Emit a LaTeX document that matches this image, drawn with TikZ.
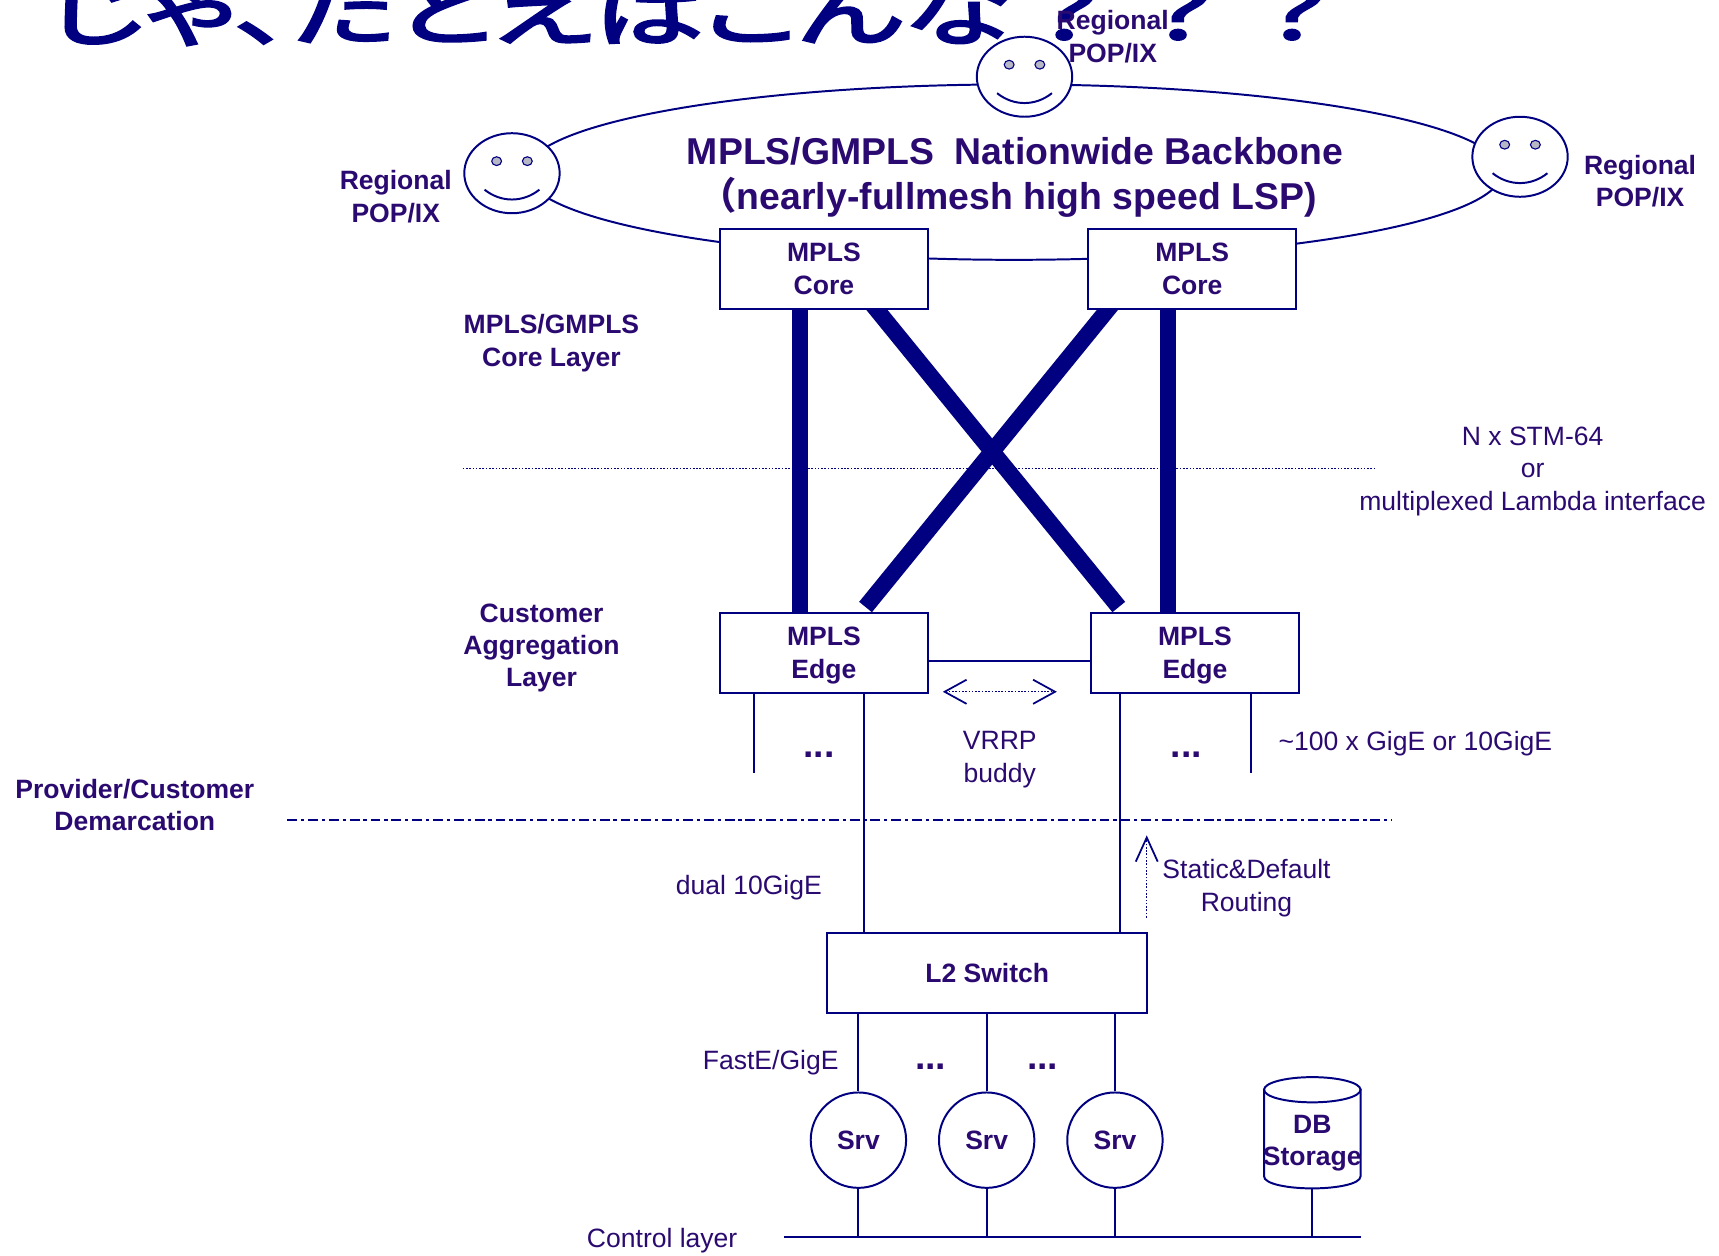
\documentclass[tikz,border=0pt]{standalone}
\usepackage{fontspec}
\setmainfont{Liberation Sans}
\newfontfamily\cjk{Noto Sans CJK JP}
\newfontfamily\cjkhead[RawFeature=+palt,FakeBold=3]{Noto Sans CJK JP}
\usetikzlibrary{shapes.geometric,arrows.meta,backgrounds}
\definecolor{netline}{HTML}{000080}
\definecolor{nettext}{HTML}{2A0A70}
\tikzset{
  netbox/.style={rectangle,draw=netline,line width=1.8pt,fill=white,text=nettext,align=center,inner sep=0pt,minimum height=73pt,text depth=0pt,font=\fontsize{24.2}{29.5}\selectfont\bfseries},
  face/.style={ellipse,draw=netline,line width=1.8pt,fill=white,inner sep=0pt,minimum width=87pt,minimum height=73pt},
  eye/.style={ellipse,draw=netline,line width=1pt,fill=netline!25!gray!45!white,inner sep=0pt,minimum width=9pt,minimum height=8pt},
  srv/.style={circle,draw=netline,line width=1.8pt,fill=white,text=nettext,inner sep=0pt,minimum size=87pt,font=\fontsize{24.2}{29.5}\selectfont\bfseries},
  lab/.style={text=nettext,align=center,inner sep=0pt,font=\fontsize{24.2}{29.5}\selectfont},
  blab/.style={lab,font=\fontsize{24.2}{29.5}\selectfont\bfseries},
  dotsmark/.style={lab,font=\fontsize{34}{34}\selectfont\bfseries},
  wire/.style={draw=netline,line width=1.8pt},
  trunk/.style={draw=netline,line width=15pt},
  dotline/.style={draw=netline,line width=1pt,dash pattern=on 1.5pt off 1.5pt},
  demarc/.style={draw=netline,line width=1.8pt,dash pattern=on 9pt off 3.5pt on 3pt off 3.5pt},
  dotarrow/.style={draw=netline,line width=1.2pt,dash pattern=on 1.5pt off 1.5pt,{Straight Barb[length=20pt,width=22pt,line width=1.6pt]}-{Straight Barb[length=20pt,width=22pt,line width=1.6pt]}}
}
\begin{document}
\begin{tikzpicture}[x=1pt,y=-1pt]
  \useasboundingbox (0,0) rectangle (1568,1145);
  % title runs off the top of the slide
  \node[anchor=base west,inner sep=0pt,text=netline,xscale=1.095,yscale=0.75,transform shape,font=\fontsize{92}{100}\selectfont\cjkhead] (title) at (44,36) {じゃ、たとえばこんな\hspace{12pt}？\hspace{29pt}？\hspace{29pt}？};

  % backbone ring and the POPs on it
  \node[ellipse,draw=netline,line width=1.8pt,inner sep=0pt,minimum width=890pt,minimum height=160pt] (ring) at (925,157) {};
  \foreach \nm/\cx/\cy in {popT/934.5/70,popL/467/158,popR/1386.5/143}{
    \node[face] (\nm) at (\cx,\cy) {};
    \node[eye] (\nm a) at (\cx-14,\cy-11) {};
    \node[eye] (\nm b) at (\cx+14,\cy-11) {};
    \draw[wire] (\cx-25,\cy+15) .. controls (\cx-10,\cy+27) and (\cx+10,\cy+27) .. (\cx+25,\cy+15);
  }
  \node[blab] (labT) at (1015,33.5) {Regional\\POP/IX};
  \node[blab] (labL) at (361,179.5) {Regional\\POP/IX};
  \node[blab] (labR) at (1496,165.5) {Regional\\POP/IX};
  \node[text=nettext,align=center,inner sep=0pt,font=\fontsize{34.1}{41}\selectfont\bfseries] (bbone) at (926,162) {MPLS/GMPLS~ Nationwide Backbone\\{\cjk （}nearly-fullmesh high speed LSP)\hspace*{13pt}};

  % boxes
  \node[netbox,minimum width=190pt] (coreL) at (751.5,245) {MPLS\\Core};
  \node[netbox,minimum width=190pt] (coreR) at (1087.5,245) {MPLS\\Core};
  \node[netbox,minimum width=190pt] (edgeL) at (751.5,595.5) {MPLS\\Edge};
  \node[netbox,minimum width=190pt] (edgeR) at (1090,595.5) {MPLS\\Edge};
  \node[netbox,minimum width=292pt] (l2sw) at (900.5,887.5) {L2 Switch};

  % core to edge trunks
  \begin{scope}[on background layer]
    \draw[trunk] ([xshift=-22pt]coreL.south) -- ([xshift=-22pt]edgeL.north);
    \draw[trunk] ([xshift=-22pt]coreR.south) -- ([xshift=-24.5pt]edgeR.north);
    \draw[trunk] ([xshift=40pt,yshift=10pt]coreL.south) -- ([xshift=-69.5pt,yshift=4.4pt]edgeR.north);
    \draw[trunk] ([xshift=-69pt,yshift=10pt]coreR.south) -- ([xshift=38pt,yshift=4.4pt]edgeL.north);
  \end{scope}

  \coordinate (dotA) at (422,427);
  \coordinate (dotB) at (1254,427);
  \draw[dotline] (dotA) -- (dotB);
  \coordinate (demA) at (262,748);
  \coordinate (demB) at (1270,748);
  \draw[demarc] (demA) -- (demB);

  \draw[wire] ([yshift=-7.5pt]edgeL.east) -- ([yshift=-7.5pt]edgeR.west);
  \coordinate (vrrpA) at (860,631);
  \coordinate (vrrpB) at (964,631);
  \draw[dotarrow] (vrrpA) -- (vrrpB);

  % edge ports
  \coordinate (stubL) at (688,705);
  \coordinate (stubR) at (1141,705);
  \draw[wire] (edgeL.south -| stubL) -- (stubL);
  \draw[wire] (edgeR.south -| stubR) -- (stubR);
  \draw[wire] ([xshift=36.5pt]edgeL.south) -- ([xshift=-112.5pt]l2sw.north);
  \draw[wire] ([xshift=-68.5pt]edgeR.south) -- ([xshift=121pt]l2sw.north);
  \coordinate (routeA) at (1046,837);
  \coordinate (routeB) at (1046,762);
  \draw[dotline,line width=1.2pt,-{Straight Barb[length=22pt,width=20pt,line width=1.6pt]}] (routeA) -- (routeB);

  % servers and control bus
  \node[srv] (srvA) at (783,1040) {Srv};
  \node[srv] (srvB) at (900,1040) {Srv};
  \node[srv] (srvC) at (1017,1040) {Srv};
  \coordinate (dbfoot) at (1197,1084);
  \draw[wire] (1153,993) -- (1153,1073) .. controls (1153,1080) and (1175,1084) .. (dbfoot) .. controls (1219,1084) and (1241,1080) .. (1241,1073) -- (1241,993);
  \node[ellipse,draw=netline,line width=1.8pt,inner sep=0pt,minimum width=88pt,minimum height=23pt] (dbase) at (1197,994) {};
  \node[blab] (dbtxt) at (1197,1042.5) {DB\\Storage};
  \coordinate (busA) at (715,1128);
  \coordinate (busB) at (1241,1128);
  \draw[wire] (busA) -- (busB);
  \foreach \sv in {srvA,srvB,srvC}{
    \draw[wire] (\sv.north |- l2sw.south) -- (\sv.north);
    \draw[wire] (\sv.south) -- (\sv.south |- busA);
  }
  \draw[wire] (dbfoot) -- (dbfoot |- busA);

  % layer labels
  \node[blab] (labCore) at (503,313) {MPLS/GMPLS\\Core Layer};
  \node[blab] (labAgg) at (494,591) {Customer\\Aggregation\\Layer};
  \node[blab] (labDem) at (123,734.5) {Provider/Customer\\Demarcation};
  \node[lab] (labStm) at (1398,430) {N x STM-64\\or\hspace*{6pt}\\multiplexed Lambda interface};
  \node[lab] (labVrrp) at (912,693) {VRRP\\buddy};
  \node[lab] (labGige) at (1291,678) {\textasciitilde100 x GigE or 10GigE};
  \node[lab] (labDual) at (683,809.5) {dual 10GigE};
  \node[lab] (labStat) at (1137,810) {Static\&Default\\Routing};
  \node[lab] (labFast) at (703,969.5) {FastE/GigE};
  \node[lab] (labCtl) at (604,1131.5) {Control layer};
  \node[dotsmark] (dotsA) at (747,688) {...};
  \node[dotsmark] (dotsB) at (1082,688) {...};
  \node[dotsmark] (dotsC) at (849,973) {...};
  \node[dotsmark] (dotsD) at (951,973) {...};
\end{tikzpicture}
\end{document}
